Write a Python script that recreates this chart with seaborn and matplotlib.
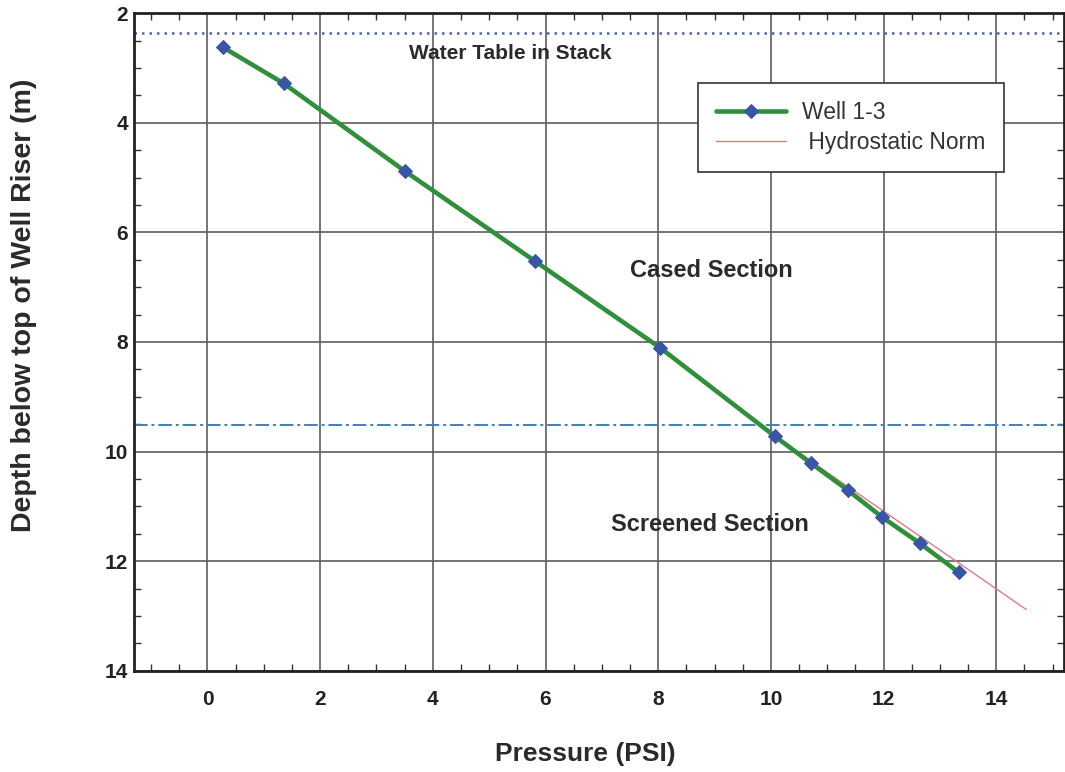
import matplotlib
matplotlib.use("Agg")
import matplotlib.pyplot as plt
from matplotlib.ticker import MultipleLocator
import seaborn as sns
import pandas as pd

# Measured pressure / depth profile for well 1-3
pressure_psi = [0.27, 1.35, 3.50, 5.82, 8.04, 10.07, 10.71, 11.36, 11.98, 12.64, 13.33]
depth_m = [2.62, 3.28, 4.88, 6.53, 8.11, 9.72, 10.21, 10.70, 11.20, 11.67, 12.20]

# Hydrostatic norm: follows the cased section, then extends at the hydrostatic gradient
hydro_pressure = [0.27, 1.35, 3.50, 5.82, 8.04, 10.07, 14.53]
hydro_depth = [2.62, 3.28, 4.88, 6.53, 8.11, 9.72, 12.88]

water_table_depth = 2.37
screen_top_depth = 9.52

sns.set_theme(style="white")
plt.rcParams["font.family"] = ["Liberation Sans", "DejaVu Sans"]

well = pd.DataFrame({"Pressure": pressure_psi, "Depth": depth_m})
hydro = pd.DataFrame({"Pressure": hydro_pressure, "Depth": hydro_depth})

fig = plt.figure(figsize=(10.65, 7.72), dpi=100)
ax = fig.add_axes([0.126, 0.131, 0.873, 0.852])

ax.set_xlim(-1.3, 15.2)
ax.set_ylim(14, 2)

ax.grid(True, which="major", color="#5e5e5e", linewidth=1.2)
ax.set_axisbelow(True)

ax.axhline(water_table_depth, color="#4a66b0", linestyle=(0, (1, 2.0)), linewidth=1.8, zorder=2)
ax.axhline(screen_top_depth, color="#3f7fc0", linestyle=(0, (7, 2, 1.5, 2)), linewidth=1.4, zorder=2)

sns.lineplot(data=hydro, x="Pressure", y="Depth", ax=ax, sort=False, estimator=None,
             color="#e07a8a", linewidth=1.0, label=" Hydrostatic Norm", zorder=3)
sns.lineplot(data=well, x="Pressure", y="Depth", ax=ax, sort=False, estimator=None,
             color="#2f8f3a", linewidth=3.3, marker="D", markersize=7,
             markerfacecolor="#3a55a8", markeredgecolor="#3a55a8", label="Well 1-3", zorder=4)

text_kw = dict(fontweight="bold", color="#2a2a2a", ha="center", va="center")
ax.text(5.38, 2.73, "Water Table in Stack", fontsize=15, **text_kw)
ax.text(8.94, 6.69, "Cased Section", fontsize=17, **text_kw)
ax.text(8.92, 11.33, "Screened Section", fontsize=17, **text_kw)

ax.xaxis.set_major_locator(MultipleLocator(2))
ax.xaxis.set_minor_locator(MultipleLocator(0.5))
ax.yaxis.set_major_locator(MultipleLocator(2))
ax.yaxis.set_minor_locator(MultipleLocator(0.5))
ax.tick_params(which="both", direction="in", top=True, right=True, bottom=True, left=True,
               color="#333333")
ax.tick_params(which="major", length=0, labelsize=15)
ax.tick_params(axis="x", which="major", pad=13.5)
ax.tick_params(axis="y", which="major", pad=4.5)
ax.tick_params(which="minor", length=5, width=1)
for lbl in ax.get_xticklabels() + ax.get_yticklabels():
    lbl.set_fontweight("bold")
    lbl.set_color("#222222")

for side in ["left", "bottom", "top", "right"]:
    ax.spines[side].set_color("#222222")
    ax.spines[side].set_linewidth(2)

ax.set_xlabel("Pressure (PSI)", fontsize=19, fontweight="bold", color="#2a2a2a")
ax.set_ylabel("Depth below top of Well Riser (m)", fontsize=20.5, fontweight="bold", color="#2a2a2a")
ax.xaxis.set_label_coords(0.485, -0.108)
ax.yaxis.set_label_coords(-0.104, 0.556)

handles, labels = ax.get_legend_handles_labels()
order = [labels.index("Well 1-3"), labels.index(" Hydrostatic Norm")]
leg = ax.legend([handles[i] for i in order], [labels[i] for i in order],
                loc="upper left", bbox_to_anchor=(0.606, 0.894), fontsize=16.5,
                frameon=True, fancybox=False, edgecolor="#333333", framealpha=1,
                handlelength=3.05, borderpad=0.8, labelspacing=0.3, handletextpad=0.7,
                borderaxespad=0)
leg.get_frame().set_linewidth(1.2)
for t in leg.get_texts():
    t.set_color("#333333")

fig.savefig("out.png", dpi=100)
